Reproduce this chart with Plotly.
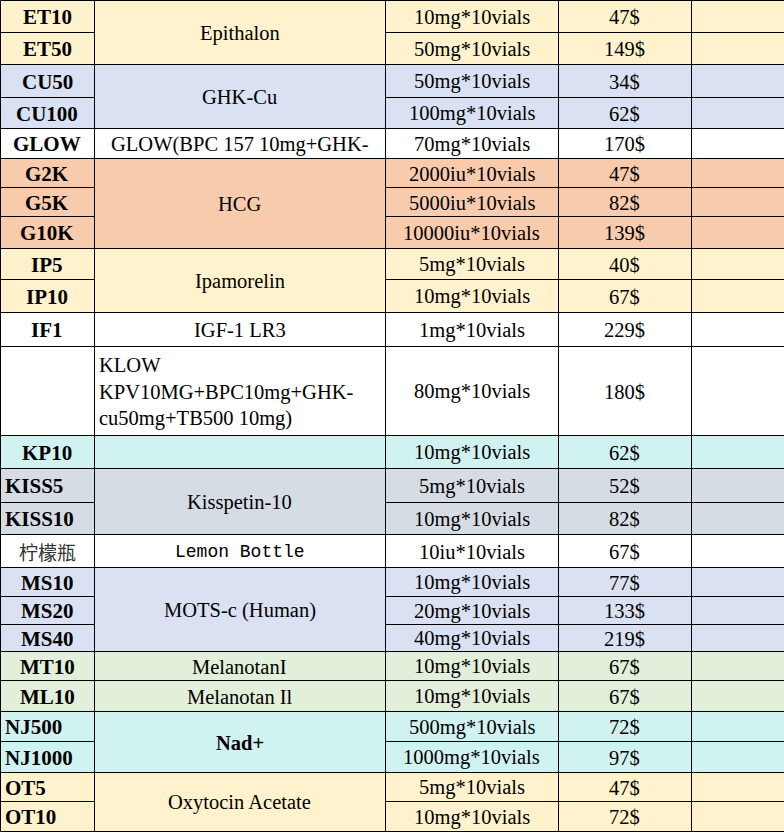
import plotly.graph_objects as go

# Price list data
codes = ["ET10", "ET50", "CU50", "CU100", "GLOW", "G2K", "G5K", "G10K", "IP5", "IP10",
         "IF1", "", "KP10", "KISS5", "KISS10", "柠檬瓶", "MS10", "MS20", "MS40",
         "MT10", "ML10", "NJ500", "NJ1000", "OT5", "OT10"]
specs = ["10mg*10vials", "50mg*10vials", "50mg*10vials", "100mg*10vials", "70mg*10vials",
         "2000iu*10vials", "5000iu*10vials", "10000iu*10vials", "5mg*10vials", "10mg*10vials",
         "1mg*10vials", "80mg*10vials", "10mg*10vials", "5mg*10vials", "10mg*10vials",
         "10iu*10vials", "10mg*10vials", "20mg*10vials", "40mg*10vials", "10mg*10vials",
         "10mg*10vials", "500mg*10vials", "1000mg*10vials", "5mg*10vials", "10mg*10vials"]
prices = [47, 149, 34, 62, 170, 47, 82, 139, 40, 67, 229, 180, 62, 52, 82, 67, 77, 133, 219,
          67, 67, 72, 97, 47, 72]

# product name and how many rows it covers
products = ["Epithalon", "GHK-Cu", "GLOW(BPC 157 10mg+GHK-", "HCG", "Ipamorelin", "IGF-1 LR3",
            "KLOW<br>KPV10MG+BPC10mg+GHK-<br>cu50mg+TB500 10mg)", "", "Kisspetin-10",
            "Lemon Bottle", "MOTS-c (Human)", "MelanotanI", "Melanotan Il", "Nad+",
            "Oxytocin Acetate"]
product_rows = [2, 2, 1, 3, 2, 1, 1, 1, 2, 1, 3, 1, 1, 2, 2]

# layout / style
YELLOW, BLUE, ORANGE, WHITE = "#FFF2CC", "#D9E1F2", "#F8CBAD", "#FFFFFF"
CYAN, GRAY, GREEN = "#D0F2F1", "#D6DCE4", "#E2EFDA"
product_colors = [YELLOW, BLUE, WHITE, ORANGE, YELLOW, WHITE, WHITE, CYAN, GRAY, WHITE,
                  BLUE, GREEN, GREEN, CYAN, YELLOW]
row_edges = [0, 32, 64, 97, 128, 158, 187, 216, 248, 279, 312, 346, 435, 468, 502, 534,
             567, 596, 624, 651, 680, 711, 741, 772, 801, 831]
col_edges = [0, 94, 385, 558, 691, 786]
left_codes = {"KISS5", "KISS10", "NJ500", "NJ1000", "OT5", "OT10"}

SERIF = "Liberation Serif"
MONO = "Liberation Mono"

shapes = []
annotations = []


def cell(x0, x1, y0, y1, color):
    shapes.append(dict(type="rect", xref="x", yref="y", x0=x0 + 0.5, x1=x1 + 0.5,
                       y0=y0 + 0.5, y1=y1 + 0.5, fillcolor=color,
                       line=dict(color="black", width=1), layer="below"))


def label(x, y, text, font, size, bold=False, anchor="center", color="#000000"):
    annotations.append(dict(x=x, y=y, xref="x", yref="y", text=text, showarrow=False,
                            xanchor=anchor, yanchor="middle", align=anchor,
                            font=dict(family=font, size=size, color=color,
                                      weight="bold" if bold else "normal")))


row = 0
for name, n, color in zip(products, product_rows, product_colors):
    y0, y1 = row_edges[row], row_edges[row + n]
    cell(col_edges[1], col_edges[2], y0, y1, color)
    ym = (y0 + y1) / 2 + 1
    if name.startswith("KLOW"):
        label(col_edges[1] + 3, ym, name, SERIF, 20.5, anchor="left")
    elif name == "Lemon Bottle":
        label((col_edges[1] + col_edges[2]) / 2, ym, name, MONO, 18)
    else:
        label((col_edges[1] + col_edges[2]) / 2, ym, name, SERIF, 20.5, bold=(name == "Nad+"))
    for r in range(row, row + n):
        ry0, ry1 = row_edges[r], row_edges[r + 1]
        rm = (ry0 + ry1) / 2 + 1
        for c in (0, 2, 3, 4):
            cell(col_edges[c], col_edges[c + 1], ry0, ry1, color)
        code = codes[r]
        if code == "柠檬瓶":
            label(47, rm, code, "Noto Sans CJK SC", 19, color="#333333")
        elif code in left_codes:
            label(3, rm, code, SERIF, 21, bold=True, anchor="left")
        elif code:
            label(47, rm, code, SERIF, 21, bold=True)
        label((col_edges[2] + col_edges[3]) / 2, rm, specs[r], SERIF, 20.5)
        label((col_edges[3] + col_edges[4]) / 2, rm, f"{prices[r]}$", SERIF, 20.5)
    row += n

fig = go.Figure()
fig.update_layout(
    width=784, height=834,
    margin=dict(l=0, r=0, t=0, b=0),
    paper_bgcolor="white", plot_bgcolor="white",
    xaxis=dict(range=[0, 784], visible=False, fixedrange=True),
    yaxis=dict(range=[834, 0], visible=False, fixedrange=True),
    shapes=shapes, annotations=annotations, showlegend=False,
)

fig.write_html("out.html", config={"displayModeBar": False},
               post_script="document.body.style.margin='0';document.body.style.overflow='hidden';")
